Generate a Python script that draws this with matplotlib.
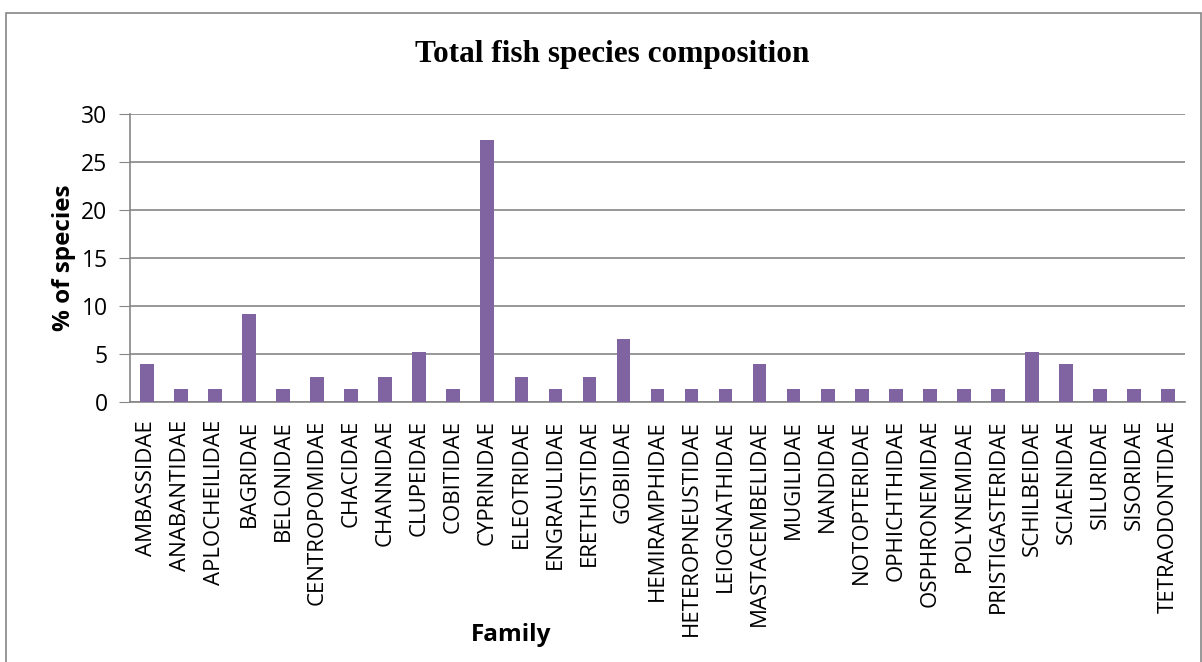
import matplotlib
matplotlib.use("Agg")
import matplotlib.pyplot as plt
import numpy as np

# fish families and % of species
families = ["AMBASSIDAE", "ANABANTIDAE", "APLOCHEILIDAE", "BAGRIDAE", "BELONIDAE",
            "CENTROPOMIDAE", "CHACIDAE", "CHANNIDAE", "CLUPEIDAE", "COBITIDAE",
            "CYPRINIDAE", "ELEOTRIDAE", "ENGRAULIDAE", "ERETHISTIDAE", "GOBIIDAE",
            "HEMIRAMPHIDAE", "HETEROPNEUSTIDAE", "LEIOGNATHIDAE", "MASTACEMBELIDAE",
            "MUGILIDAE", "NANDIDAE", "NOTOPTERIDAE", "OPHICHTHIDAE", "OSPHRONEMIDAE",
            "POLYNEMIDAE", "PRISTIGASTERIDAE", "SCHILBEIDAE", "SCIAENIDAE",
            "SILURIDAE", "SISORIDAE", "TETRAODONTIDAE"]
percent = [3.9, 1.3, 1.3, 9.1, 1.3, 2.6, 1.3, 2.6, 5.2, 1.3,
           27.3, 2.6, 1.3, 2.6, 6.5, 1.3, 1.3, 1.3, 3.9,
           1.3, 1.3, 1.3, 1.3, 1.3, 1.3, 1.3, 5.2, 3.9,
           1.3, 1.3, 1.3]
yticks = [0, 5, 10, 15, 20, 25, 30]

fig = plt.figure(figsize=(12.02, 6.62), dpi=100)

# outer chart border
fig.patches.append(plt.Rectangle((0.005, -0.01), 0.994, 0.99, transform=fig.transFigure,
                                 fill=False, edgecolor="#868686", linewidth=1.2))

ax = fig.add_axes([0.108, 0.393, 0.878, 0.435])
x = np.arange(len(families))
ax.bar(x, percent, width=0.4, color="#8064A2", zorder=3)

ax.set_xlim(-0.5, len(families) - 0.5)
ax.set_ylim(0, 30)
ax.set_yticks(yticks)
ax.yaxis.grid(True, color="#868686", linewidth=1.2, zorder=0)
for s in ["top", "right"]:
    ax.spines[s].set_visible(False)
ax.spines["left"].set_color("#868686")
ax.spines["bottom"].set_color("#868686")
ax.spines["left"].set_linewidth(1.2)
ax.spines["bottom"].set_linewidth(1.2)

ax.set_xticks(x)
ax.set_xticklabels(families, rotation=90, fontsize=16, family="Open Sans")
ax.tick_params(axis="x", length=0, pad=13)
ax.tick_params(axis="y", length=8, color="#868686", labelsize=16.5, pad=8)
for lab in ax.get_yticklabels():
    lab.set_family("Open Sans")

ax.set_ylabel("% of species", fontsize=17.5, fontweight="bold", family="Open Sans")
ax.yaxis.set_label_coords(-0.051, 0.5)
ax.set_xlabel("Family", fontsize=17.5, fontweight="bold", family="Open Sans")
ax.xaxis.set_label_coords(0.361, -0.769)

fig.text(0.509, 0.917, "Total fish species composition", ha="center", va="center",
         fontsize=22.5, fontweight="bold", family="Liberation Serif")

fig.savefig("out.png", dpi=100)
